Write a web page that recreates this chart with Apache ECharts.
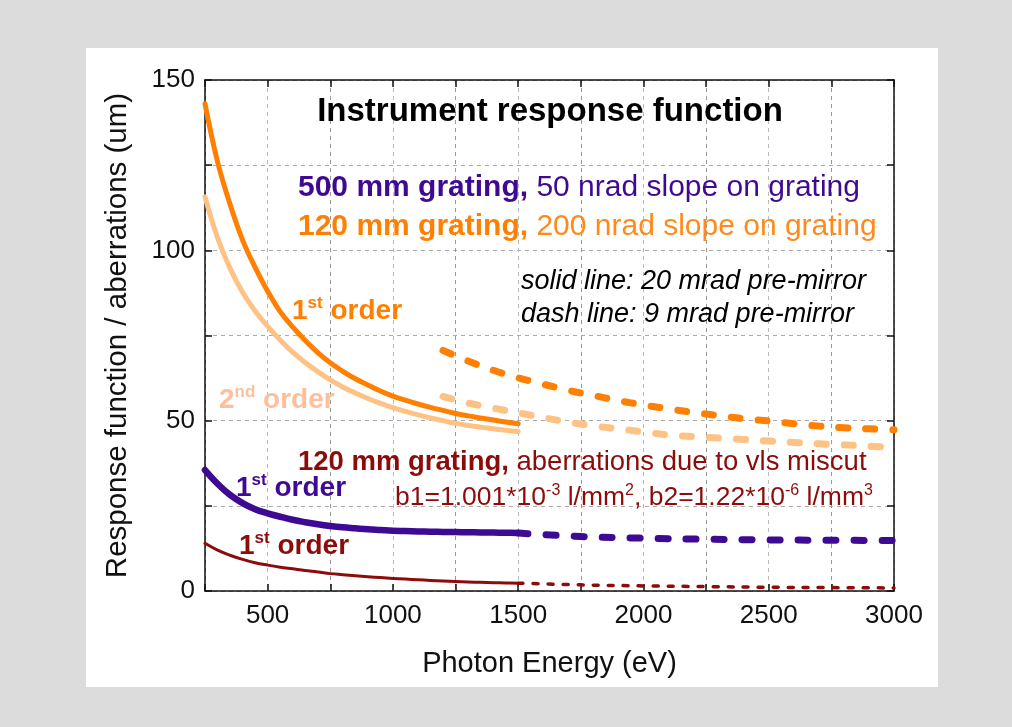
<!DOCTYPE html>
<html>
<head>
<meta charset="utf-8">
<script src="https://cdn.jsdelivr.net/npm/echarts@6/dist/echarts.min.js"></script>
<style>
html,body{margin:0;padding:0;background:#dcdcdc;}
#panel{position:absolute;left:86px;top:48px;width:852px;height:639px;background:#fff;}
#chart{position:absolute;left:0;top:0;width:1012px;height:727px;}
</style>
</head>
<body>
<div id="panel"></div>
<div id="chart"></div>
<script>
// ---------- data ----------
const xTicks = [500, 1000, 1500, 2000, 2500, 3000];
const yTicks = [0, 50, 100, 150];

// solid-line energies (20 mrad pre-mirror), 250..1500 eV
const eSolid = [250, 300, 350, 400, 450, 500, 550, 600, 650, 700, 750, 800, 850, 900, 950,
  1000, 1050, 1100, 1150, 1200, 1250, 1300, 1350, 1400, 1450, 1500];
// 120 mm grating, 200 nrad slope
const orange1st = [143, 126, 113.5, 103, 95, 88, 82, 77.5, 73.5, 70, 67, 64.5, 62.3, 60.5, 58.7,
  57.2, 56, 54.9, 53.9, 53, 52.1, 51.4, 50.8, 50.2, 49.6, 49.1];
const orange2nd = [115.7, 103.7, 94.7, 87.7, 82.2, 77.7, 73.7, 70.1, 67.1, 64.4, 62.0, 59.9, 58.1, 56.5, 55.1,
  53.8, 52.7, 51.7, 50.8, 50.0, 49.2, 48.6, 48.1, 47.6, 47.2, 46.8];
// 500 mm grating, 50 nrad slope
const purpleSolid = [35.5, 31.5, 28.2, 25.8, 24.0, 22.8, 21.8, 20.9, 20.2, 19.6, 19.1, 18.7, 18.4, 18.1, 17.9,
  17.7, 17.6, 17.5, 17.4, 17.35, 17.3, 17.25, 17.2, 17.15, 17.1, 17.05];
// 120 mm grating, aberrations due to vls miscut
const redSolid = [14.0, 12.0, 10.5, 9.3, 8.3, 7.6, 7.0, 6.5, 6.0, 5.6, 5.1, 4.8, 4.5, 4.2, 3.95,
  3.7, 3.5, 3.3, 3.1, 2.95, 2.8, 2.65, 2.55, 2.45, 2.35, 2.3];

// dashed lines (9 mrad pre-mirror)
const eDash = [1200, 1300, 1400, 1500, 1600, 1700, 1800, 1900, 2000, 2100, 2200, 2300, 2400, 2500, 2600, 2700, 2800, 2900, 3000];
const orange1stDash = [70.6, 67.5, 64.8, 62.6, 60.7, 58.9, 57.4, 55.9, 54.6, 53.5, 52.4, 51.5, 50.6, 49.9, 49.1, 48.4, 47.9, 47.6, 47.3];
const orange2ndDash = [57.1, 55.2, 53.7, 52.3, 50.9, 49.6, 48.5, 47.6, 46.7, 45.8, 45.3, 44.9, 44.5, 44.0, 43.6, 43.2, 42.9, 42.5, 42.1];
const eHigh = [1500, 1750, 2000, 2250, 2500, 2750, 3000];
const purpleDash = [17.0, 16.0, 15.5, 15.2, 15.0, 14.9, 14.8];
const redDash = [2.3, 1.8, 1.5, 1.3, 1.1, 1.0, 0.9];

// ---------- styles ----------
const C = {
  orange: '#ff7f00', light: '#ffc285', peach: '#fdbf9c',
  purple: '#3f0a93', red: '#8c0c0c', slope: '#ff8a1c'
};
const FONT = '"Liberation Sans", Arial, sans-serif';

const pairs = (xs, ys) => xs.map((x, i) => [x, ys[i]]);
function line(name, xs, ys, color, width, dash, z) {
  return {
    name, type: 'line', data: pairs(xs, ys), showSymbol: false, symbol: 'none',
    smooth: 0.4, z: z || 3, silent: true,
    lineStyle: { color, width, type: dash || 'solid', cap: 'round', join: 'round' }
  };
}

const chart = echarts.init(document.getElementById('chart'), null, { renderer: 'canvas' });

function txt(x, y, text, rich, align) {
  return {
    type: 'text', x, y, z: 100,
    style: { text, rich, align: align || 'left', verticalAlign: 'middle', fontFamily: FONT, fill: '#000' }
  };
}
function rs(color, size, weight, style, extra) {
  return Object.assign({ fill: color, fontSize: size, fontWeight: weight || 'normal', fontStyle: style || 'normal', fontFamily: FONT, lineHeight: size + 4 }, extra || {});
}
function supStyle(color, size, weight) {
  return rs(color, size, weight, 'normal', { verticalAlign: 'top', lineHeight: 14 });
}
function orderRich(color) {
  return { a: rs(color, 28, 'bold'), s: supStyle(color, 17, 'bold') };
}

const axisCommon = {
  axisLine: { onZero: false, lineStyle: { color: '#111', width: 1.5 } },
  axisTick: { inside: true, length: 7, lineStyle: { color: '#111', width: 1.5 } }
};

chart.setOption({
  animation: false,
  backgroundColor: 'transparent',
  grid: { left: 205, right: 118, top: 80, bottom: 136, containLabel: false },
  xAxis: [
    Object.assign({
      type: 'value', min: 250, max: 3000, interval: 250,
      name: 'Photon Energy (eV)', nameLocation: 'middle', nameGap: 58,
      nameTextStyle: { fontSize: 29, color: '#111', fontFamily: FONT },
      axisLabel: {
        margin: 12, fontSize: 26, color: '#111', fontFamily: FONT,
        formatter: v => (xTicks.indexOf(v) >= 0 ? String(v) : '')
      },
      splitLine: { show: true, lineStyle: { type: [4, 4], color: ['#999', '#bbb'], width: 1 } }
    }, axisCommon),
    Object.assign({
      type: 'value', min: 250, max: 3000, interval: 250, position: 'top',
      axisLabel: { show: false }, splitLine: { show: false }
    }, axisCommon)
  ],
  yAxis: [
    Object.assign({
      type: 'value', min: 0, max: 150, interval: 25,
      name: 'Response function / aberrations (um)', nameLocation: 'middle', nameGap: 72,
      nameTextStyle: { fontSize: 29.5, color: '#111', fontFamily: FONT },
      axisLabel: {
        margin: 10, fontSize: 26, color: '#111', fontFamily: FONT,
        formatter: v => (yTicks.indexOf(v) >= 0 ? String(v) : '')
      },
      splitLine: { show: true, lineStyle: { type: [4, 4], color: '#aaa', width: 1 } }
    }, axisCommon),
    Object.assign({
      type: 'value', min: 0, max: 150, interval: 25, position: 'right',
      axisLabel: { show: false }, splitLine: { show: false }
    }, axisCommon)
  ],
  series: [
    line('120mm 2nd solid', eSolid, orange2nd, C.light, 5),
    line('120mm 1st solid', eSolid, orange1st, C.orange, 5),
    line('120mm 2nd dash', eDash, orange2ndDash, C.light, 7, [9, 18]),
    line('120mm 1st dash', eDash, orange1stDash, C.orange, 7, [9, 18]),
    line('500mm solid', eSolid, purpleSolid, C.purple, 6.5),
    line('500mm dash', eHigh, purpleDash, C.purple, 7, [10, 18]),
    line('vls solid', eSolid, redSolid, C.red, 3),
    line('vls dash', eHigh, redDash, C.red, 3.5, [5, 10])
  ],
  graphic: [
    txt(550, 112, '{t|Instrument response function}', { t: rs('#000', 33, 'bold') }, 'center'),
    txt(298, 188, '{b|500 mm grating,}{n| 50 nrad slope on grating}',
      { b: rs(C.purple, 30, 'bold'), n: rs(C.purple, 30) }),
    txt(298, 227, '{b|120 mm grating,}{n| 200 nrad slope on grating}',
      { b: rs(C.orange, 30, 'bold'), n: rs(C.slope, 30) }),
    txt(521, 281, '{i|solid line: 20 mrad pre-mirror}', { i: rs('#000', 27, 'normal', 'italic') }),
    txt(521, 314, '{i|dash line: 9 mrad pre-mirror}', { i: rs('#000', 27, 'normal', 'italic') }),
    txt(292, 311, '{a|1}{s|st}{a| order}', orderRich(C.orange)),
    txt(219, 400, '{a|2}{s|nd}{a| order}', orderRich(C.peach)),
    txt(298, 462, '{b|120 mm grating,}{n| aberrations due to vls miscut}',
      { b: rs(C.red, 27.5, 'bold'), n: rs(C.red, 27.5) }),
    txt(395, 498, '{n|b1=1.001*10}{s|-3}{n| l/mm}{s|2}{n|, b2=1.22*10}{s|-6}{n| l/mm}{s|3}',
      { n: rs(C.red, 26.5), s: supStyle(C.red, 16) }),
    txt(236, 488, '{a|1}{s|st}{a| order}', orderRich(C.purple)),
    txt(239, 546, '{a|1}{s|st}{a| order}', orderRich(C.red))
  ]
});
</script>
</body>
</html>
